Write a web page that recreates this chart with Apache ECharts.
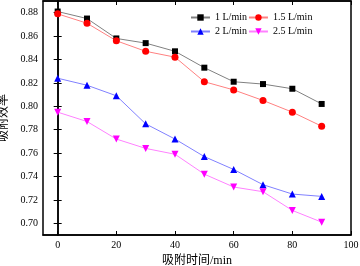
<!DOCTYPE html>
<html style="height:100%;">
<head>
<meta charset="utf-8">
<script src="https://cdn.jsdelivr.net/npm/echarts@6/dist/echarts.min.js"></script>
</head>
<body style="height:100%; margin:0;">
<div id="main" style="width:360px; height:266px;"></div>
<script type="text/javascript">
var times = [0, 10, 20, 30, 40, 50, 60, 70, 80, 90];
var names = ['1 L/min', '1.5 L/min', '2 L/min', '2.5 L/min'];
var flow1 = [0.881, 0.875, 0.858, 0.854, 0.847, 0.833, 0.821, 0.819, 0.815, 0.802];
var flow15 = [0.879, 0.871, 0.856, 0.847, 0.842, 0.821, 0.814, 0.805, 0.795, 0.783];
var flow2 = [0.824, 0.818, 0.809, 0.785, 0.772, 0.757, 0.746, 0.733, 0.725, 0.723];
var flow25 = [0.795, 0.787, 0.772, 0.764, 0.759, 0.742, 0.731, 0.727, 0.711, 0.701];
var xTicks = [0, 20, 40, 60, 80, 100];
var yTicks = [0.70, 0.72, 0.74, 0.76, 0.78, 0.80, 0.82, 0.84, 0.86, 0.88];

function pairs(vals) {
    return times.map(function (t, i) { return [t, vals[i]]; });
}
function mk(name, vals, lineColor, markColor, symbol, size, rot) {
    return {
        name: name, type: 'line', data: pairs(vals),
        symbol: symbol, symbolSize: size, symbolRotate: rot || 0,
        lineStyle: { color: lineColor, width: 1 },
        itemStyle: { color: markColor },
        animation: false
    };
}
var serif = '"Liberation Serif", "Times New Roman", serif';
var cjk = '"Liberation Serif", "Noto Sans CJK SC", sans-serif';
var myChart = echarts.init(document.getElementById('main'));
myChart.setOption({
    grid: {
        left: 43, right: 9, top: 1, bottom: 31, outerBoundsMode: 'none', containLabel: false,
        show: true, borderColor: '#000', borderWidth: 1.5
    },
    legend: {
        left: 190, top: 11, width: 160, padding: 0, itemWidth: 19, itemHeight: 8, itemGap: 1,
        textStyle: { fontFamily: serif, fontSize: 10, color: '#000', lineHeight: 13 },
        data: names
    },
    xAxis: [{
        type: 'value', min: -5, max: 100,
        name: '吸附时间/min', nameLocation: 'middle', nameGap: 18,
        nameTextStyle: { fontFamily: cjk, fontSize: 12, color: '#000' },
        axisLine: { lineStyle: { color: '#000', width: 1.5 } },
        axisTick: { inside: true, length: 4, customValues: xTicks, lineStyle: { color: '#000' } },
        axisLabel: { customValues: xTicks, fontFamily: serif, fontSize: 10, color: '#000', margin: 5 },
        splitLine: { show: false }
    }, {
        type: 'value', min: -5, max: 100, position: 'top',
        axisLine: { lineStyle: { color: '#000', width: 1.5 } },
        axisTick: { inside: true, length: 4, customValues: xTicks, lineStyle: { color: '#000' } },
        axisLabel: { show: false }, splitLine: { show: false }
    }],
    yAxis: [{
        type: 'value', min: 0.69, max: 0.89,
        name: '吸附效率', nameLocation: 'middle', nameGap: 32,
        nameTextStyle: { fontFamily: cjk, fontSize: 12, color: '#000' },
        axisLine: { show: true, lineStyle: { color: '#000', width: 1.5 } },
        axisTick: { show: true, inside: true, length: 4, customValues: yTicks, lineStyle: { color: '#000' } },
        axisLabel: {
            customValues: yTicks, fontFamily: serif, fontSize: 10, color: '#000', margin: 5,
            formatter: function (v) { return v.toFixed(2); }
        },
        splitLine: { show: false }
    }, {
        type: 'value', min: 0.69, max: 0.89, position: 'right',
        axisLine: { show: true, lineStyle: { color: '#000', width: 1.5 } },
        axisTick: { show: true, inside: true, length: 4, customValues: yTicks, lineStyle: { color: '#000' } },
        axisLabel: { show: false }, splitLine: { show: false }
    }],
    series: [
        mk(names[0], flow1, '#808080', '#000000', 'rect', 6),
        mk(names[1], flow15, '#ff8080', '#ff0000', 'circle', 7),
        mk(names[2], flow2, '#8080ff', '#0000ff', 'triangle', 7),
        mk(names[3], flow25, '#ff80ff', '#ff00ff', 'triangle', 7, 180)
    ]
});
</script>
</body>
</html>
